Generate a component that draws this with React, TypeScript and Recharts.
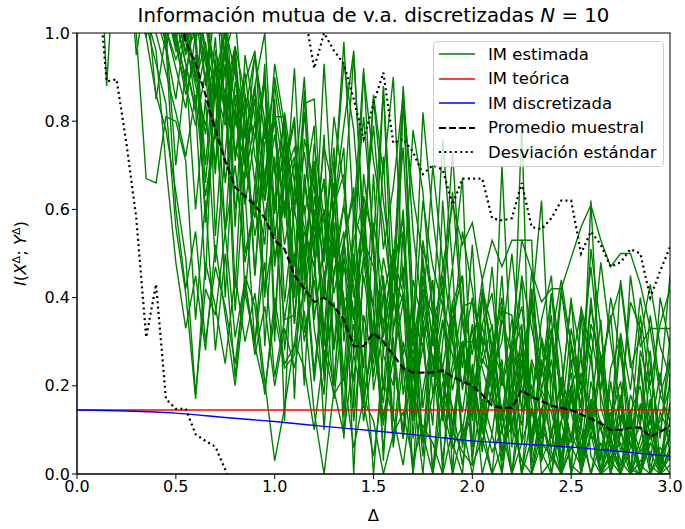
import React from 'react';
import { LineChart, Line, XAxis, YAxis } from 'recharts';

// Δ grid shared by the estimates and the summary curves
const XS = [
  0.1, 0.15, 0.2, 0.25, 0.3, 0.35, 0.4, 0.45, 0.5, 0.55,
  0.6, 0.65, 0.7, 0.75, 0.8, 0.85, 0.9, 0.95, 1.0, 1.05,
  1.1, 1.15, 1.2, 1.25, 1.3, 1.35, 1.4, 1.45, 1.5, 1.55,
  1.6, 1.65, 1.7, 1.75, 1.8, 1.85, 1.9, 1.95, 2.0, 2.05,
  2.1, 2.15, 2.2, 2.25, 2.3, 2.35, 2.4, 2.45, 2.5, 2.55,
  2.6, 2.65, 2.7, 2.75, 2.8, 2.85, 2.9, 2.95, 3.0,
];

// estimated MI per realisation (hundredths)
const EST = [
  [140,88,125,118,108,99,86,78,64,49, 18,42,36,55,31,44,27,38,20,33, 24,37,14,0,19,9,27,16,4,21, 13,2,19,9,0,15,6,11,0,13, 5,10,0,7,15,3,9,0,6,11, 0,7,3,0,9,2,0,6,3],
  [135,128,120,112,100,67,66,81,80,71, 35,62,28,50,22,45,38,18,40,25, 29,51,23,46,17,39,43,15,35,11, 31,8,27,4,33,23,7,0,25,9, 19,3,21,0,8,26,5,0,20,2, 13,25,0,9,14,0,17,0,5],
  [150,146,141,137,132,126,121,114,107,99, 112,88,106,95,72,89,96,64,93,79, 59,84,85,49,81,65,45,91,71,57, 37,84,63,49,29,47,61,52,57,44, 53,47,53,53,46,39,42,42,49,56, 61,53,47,50,50,43,33,33,33],
  [160,150,145,138,130,124,117,108,98,86, 95,57,88,40,83,64,29,58,72,12, 66,48,21,43,57,8,50,33,0,28, 41,24,0,19,32,14,0,10,24,6, 20,3,17,0,14,8,32,0,9,4, 27,0,11,3,0,16,2,0,4],
  [155,149,143,136,129,122,114,106,97,88, 79,91,68,104,60,73,95,80,49,62, 40,87,35,52,74,30,48,24,68,27, 20,55,16,29,11,62,31,8,18,12, 26,5,14,80,0,10,6,17,0,8, 13,0,5,10,2,0,7,4,0],
  [170,160,150,140,131,120,110,101,94,100, 84,96,77,110,71,86,45,80,60,75, 34,68,49,93,55,22,58,92,50,31, 45,39,27,41,22,35,19,30,14,26, 22,10,18,28,7,15,3,12,20,0, 9,5,14,0,6,11,0,4,8],
  [180,170,160,148,136,124,112,101,92,83, 100,58,79,93,42,84,66,90,30,78, 55,20,63,48,66,13,59,52,38,88, 33,47,8,42,36,24,38,19,33,15, 29,22,11,26,8,19,14,4,17,9, 0,12,6,2,10,0,7,3,9],
  [145,138,130,122,112,102,93,84,56,41, 17,48,38,25,45,30,41,21,3,15, 30,24,10,28,18,22,6,17,12,0, 9,14,3,11,7,0,10,5,2,8, 0,6,11,3,0,7,4,0,6,2, 9,0,4,7,0,3,5,0,2],
  [165,158,151,143,135,125,116,106,96,102, 89,98,76,92,81,70,85,62,77,58, 71,50,66,57,45,61,40,53,47,34, 49,41,29,45,25,38,30,20,34,24, 16,70,21,11,26,18,8,22,14,5, 17,10,3,13,7,0,10,4,12],
  [175,168,160,151,141,130,118,107,99,90, 105,93,85,97,79,91,72,62,82,68, 74,59,69,51,64,98,57,81,53,87, 48,74,32,82,58,40,73,36,18,31, 25,14,28,20,9,24,16,6,19,11, 62,15,8,0,12,5,9,0,6],
  [190,180,170,160,150,140,130,119,108,98, 88,79,92,83,74,67,80,58,71,52, 64,56,47,60,41,53,35,49,30,44, 26,39,22,48,18,34,27,14,30,40, 18,35,27,7,42,23,33,18,40,10, 34,27,11,32,19,40,25,8,31],
  [200,185,170,155,140,125,111,100,105,96, 100,70,94,55,89,80,45,75,81,81, 40,76,66,32,61,68,27,63,53,19, 49,55,16,51,42,12,39,45,6,42, 33,9,30,53,53,4,41,27,0,38, 28,3,24,31,0,28,19,0,16],
  [185,176,166,156,146,135,124,113,103,93, 82,115,54,87,97,50,61,93,35,68, 80,32,45,77,20,52,65,17,31,72, 27,8,44,34,0,30,47,7,14,34, 41,20,29,38,17,35,45,13,33,20, 32,19,40,27,10,36,20,34,42],
  [210,195,180,165,150,136,122,110,99,112, 97,66,91,100,56,95,81,40,90,76, 34,65,79,21,60,74,15,68,50,3, 46,58,12,53,38,0,35,45,2,41, 29,0,27,34,4,31,22,0,20,26, 8,24,16,0,14,20,3,18,12],
  [150,142,134,126,118,109,100,91,82,72, 86,63,78,55,70,48,62,41,56,35, 50,30,44,25,39,21,34,17,30,13, 26,10,32,7,18,24,15,2,22,0, 9,0,17,0,25,0,3,12,2,0, 14,0,2,10,1,0,13,0,0],
  [220,205,190,175,160,145,131,118,106,95, 108,97,87,101,91,82,95,76,88,70, 81,44,75,58,29,53,63,18,57,43, 12,86,39,7,35,42,0,38,27,44, 24,30,50,27,38,62,15,41,30,18, 51,33,9,44,26,12,36,20,45],
  [195,185,174,163,152,140,128,116,104,93, 83,44,96,86,37,69,88,29,63,72, 17,66,51,10,46,55,0,50,37,5, 33,41,0,37,26,3,23,30,30,27, 47,20,35,21,40,19,31,44,29,15, 38,23,36,10,45,29,33,18,26],
  [230,215,200,185,170,155,140,126,113,101, 90,103,92,82,97,86,76,89,68,80, 61,73,55,67,49,61,95,56,79,51, 65,86,31,62,47,38,64,34,21,41, 28,38,16,45,33,22,41,19,39,27, 47,25,35,43,24,31,43,29,22],
  [160,140,120,125,95,110,85,100,70,92, 60,85,48,73,95,40,66,52,85,28, 49,61,33,18,54,40,12,36,25,45, 8,30,19,0,27,14,36,6,20,11, 0,24,9,33,2,15,0,19,7,28, 4,0,12,21,0,8,16,0,10],
  [175,160,150,130,120,112,104,96,110,98, 120,102,88,79,92,70,58,81,47,66, 72,39,58,66,28,47,35,60,22,40, 51,18,35,29,44,12,25,38,39,30, 19,37,36,14,46,30,21,42,24,37, 25,48,30,15,39,33,11,40,29],
  [190,170,150,131,118,104,96,70,48,33, 45,28,52,36,20,41,30,48,22,35, 36,55,47,29,62,38,21,45,30,16, 41,26,13,35,22,45,10,28,17,5, 30,14,0,22,38,9,17,0,26,6, 12,0,21,5,14,0,9,23,4],
  [210,190,170,150,140,130,120,105,115,108, 98,110,85,95,104,76,88,67,80,59, 92,50,70,44,61,79,96,52,86,68, 90,42,78,64,35,76,47,67,12,34, 21,45,10,28,16,3,31,19,8,23, 14,35,6,0,18,11,28,2,16],
  [165,150,135,120,108,99,113,97,60,42, 55,30,47,38,25,44,29,19,36,24, 27,43,60,31,20,49,37,12,28,41, 6,25,16,33,0,21,11,29,4,17, 9,26,0,14,20,5,0,12,23,3, 16,0,8,18,0,6,13,0,22],
  [180,165,155,140,128,117,106,118,100,89, 110,95,70,98,84,61,77,90,54,69, 47,82,58,40,71,33,53,62,29,49, 37,60,21,44,31,16,39,24,52,13, 28,40,6,25,17,30,9,21,0,36, 10,27,5,16,0,24,8,12,20],
  [200,182,165,148,132,120,108,97,85,102, 91,77,99,66,86,72,54,68,83,39, 60,47,71,25,52,36,44,58,19,33, 49,27,38,15,32,23,8,28,40,10, 24,5,18,31,0,14,26,7,18,0, 21,11,0,17,6,26,0,14,9],
  [240,220,200,180,160,140,121,109,97,118, 104,89,113,80,96,71,88,100,59,82, 66,90,52,74,64,93,78,50,85,62, 44,88,55,36,70,48,31,55,42,25, 34,12,27,44,8,23,36,2,29,15, 40,18,7,30,12,0,24,9,26],
];

// sample mean, from Δ = 0.45
const MEAN = [
  1.15, 1.08, 0.98, 0.93, 0.86, 0.78, 0.71, 0.65, 0.63, 0.61, 0.58,
  0.53, 0.51, 0.45, 0.42, 0.39, 0.40, 0.38, 0.35, 0.29, 0.29,
  0.32, 0.30, 0.27, 0.24, 0.23, 0.23, 0.23, 0.235, 0.22, 0.21,
  0.20, 0.18, 0.155, 0.15, 0.15, 0.19, 0.175, 0.165, 0.155, 0.15,
  0.145, 0.135, 0.125, 0.115, 0.10, 0.10, 0.105, 0.105, 0.085, 0.095, 0.11,
];
// mean + std, from Δ = 1.10
const STD_UP = [
  1.10, 1.05, 0.92, 1.0, 0.96, 0.93, 0.85, 0.76, 0.84, 0.91,
  0.75, 0.76, 0.73, 0.68, 0.70, 0.69, 0.61, 0.67, 0.67, 0.67,
  0.58, 0.575, 0.58, 0.66, 0.56, 0.555, 0.58, 0.62, 0.62, 0.50,
  0.55, 0.52, 0.47, 0.48, 0.51, 0.50, 0.40, 0.46, 0.515,
];
// mean - std, from Δ = 0.10
const STD_DOWN = [1.15, 0.89, 0.895, 0.75, 0.58, 0.31, 0.43, 0.17, 0.148, 0.148, 0.09, 0.075, 0.062, 0.01, -0.05];

const THEO_X = [0, 3];
const THEO_Y = [0.145, 0.145];
const DISC_X = [0, 0.25, 0.5, 0.75, 1.0, 1.25, 1.5, 1.75, 2.0, 2.25, 2.5, 2.75, 3.0];
const DISC_Y = [0.145, 0.143, 0.138, 0.128, 0.119, 0.108, 0.098, 0.087, 0.075, 0.068, 0.061, 0.051, 0.04];

const X_TICKS = [0, 0.5, 1, 1.5, 2, 2.5, 3];
const Y_TICKS = [0, 0.2, 0.4, 0.6, 0.8, 1.0];

const W = 685;
const H = 529;
const M = { top: 33, right: 15, left: 27, bottom: 25 };
const YW = 50;
const XH = 30;
const FONT = 'DejaVu Sans, sans-serif';
const FS = 16.5;

const estSeries = EST.map((row) => XS.map((x, i) => ({ x, y: row[i] / 100 })));
const meanData = MEAN.map((y, i) => ({ x: XS[i + 7], y }));
const upData = STD_UP.map((y, i) => ({ x: XS[i + 20], y }));
const downData = STD_DOWN.map((y, i) => ({ x: XS[i], y }));
const theoData = THEO_X.map((x, i) => ({ x, y: THEO_Y[i] }));
const discData = DISC_X.map((x, i) => ({ x, y: DISC_Y[i] }));

const legendItems = [
  { label: 'IM estimada', color: '#008000', dash: undefined, w: 1.5 },
  { label: 'IM teórica', color: '#ff0000', dash: undefined, w: 1.5 },
  { label: 'IM discretizada', color: '#0000ff', dash: undefined, w: 1.5 },
  { label: 'Promedio muestral', color: '#000', dash: '7 3', w: 2.2 },
  { label: 'Desviación estándar', color: '#000', dash: '2 3.3', w: 2.2 },
];

export default function App() {
  const plotL = M.left + YW;
  const plotT = M.top;
  const plotW = W - M.right - plotL;
  const plotH = H - M.bottom - XH - plotT;

  return (
    <div style={{ position: 'absolute', left: 0, top: 0, width: W, height: H, background: '#fff', fontFamily: FONT }}>
      <LineChart width={W} height={H} margin={M}>
        <XAxis
          dataKey="x"
          type="number"
          domain={[0, 3]}
          ticks={X_TICKS}
          allowDataOverflow
          height={XH}
          tickFormatter={(v: number) => v.toFixed(1)}
          tick={{ fill: '#000', fontSize: 16, fontFamily: FONT }}
          tickSize={5}
          stroke="#000"
        />
        <YAxis
          type="number"
          domain={[0, 1]}
          ticks={Y_TICKS}
          allowDataOverflow
          width={YW}
          tickFormatter={(v: number) => v.toFixed(1)}
          tick={{ fill: '#000', fontSize: 16, fontFamily: FONT }}
          tickSize={5}
          stroke="#000"
        />
        {estSeries.map((d, k) => (
          <Line key={k} data={d} dataKey="y" type="linear" stroke="#008000" strokeWidth={1.4} dot={false} isAnimationActive={false} />
        ))}
        <Line data={theoData} dataKey="y" stroke="#ff0000" strokeWidth={1.4} dot={false} isAnimationActive={false} />
        <Line data={discData} dataKey="y" type="monotone" stroke="#0000ff" strokeWidth={1.4} dot={false} isAnimationActive={false} />
        <Line data={meanData} dataKey="y" stroke="#000" strokeWidth={2.2} strokeDasharray="7 3" dot={false} isAnimationActive={false} />
        <Line data={upData} dataKey="y" stroke="#000" strokeWidth={2.2} strokeDasharray="2 3.3" dot={false} isAnimationActive={false} />
        <Line data={downData} dataKey="y" stroke="#000" strokeWidth={2.2} strokeDasharray="2 3.3" dot={false} isAnimationActive={false} />
      </LineChart>

      <svg width={W} height={H} style={{ position: 'absolute', left: 0, top: 0, pointerEvents: 'none' }}>
        <rect x={plotL} y={plotT} width={plotW} height={plotH} fill="none" stroke="#000" strokeWidth={1} />
        <text x={plotL + plotW / 2} y={22} textAnchor="middle" fontSize={19.8} fontFamily={FONT} fill="#000">
          Información mutua de v.a. discretizadas <tspan fontStyle="italic">N</tspan> = 10
        </text>
        <text x={plotL + plotW / 2} y={521} textAnchor="middle" fontSize={FS} fontFamily={FONT} fill="#000">Δ</text>
        <text transform={`translate(26, ${plotT + plotH / 2}) rotate(-90)`} textAnchor="middle" fontSize={FS} fontFamily={FONT} fill="#000">
          <tspan fontStyle="italic">I</tspan>(<tspan fontStyle="italic">X</tspan>
          <tspan dy={-6} fontSize={11}>Δ</tspan>
          <tspan dy={6}>; </tspan>
          <tspan fontStyle="italic">Y</tspan>
          <tspan dy={-6} fontSize={11}>Δ</tspan>
          <tspan dy={6}>)</tspan>
        </text>
      </svg>

      <div
        style={{
          position: 'absolute', left: 433, top: 41, width: 231, height: 126, boxSizing: 'border-box',
          background: 'rgba(255,255,255,0.8)', border: '1px solid #cccccc', borderRadius: 4,
        }}
      >
        {legendItems.map((it, i) => (
          <div key={i} style={{ position: 'absolute', left: 5, top: 0 + i * 24.6, height: 24, display: 'flex', alignItems: 'center' }}>
            <svg width={36} height={10}>
              <line x1={0} y1={5} x2={36} y2={5} stroke={it.color} strokeWidth={it.w} strokeDasharray={it.dash} />
            </svg>
            <span style={{ marginLeft: 13, fontSize: FS, color: '#000', whiteSpace: 'nowrap' }}>{it.label}</span>
          </div>
        ))}
      </div>
    </div>
  );
}
